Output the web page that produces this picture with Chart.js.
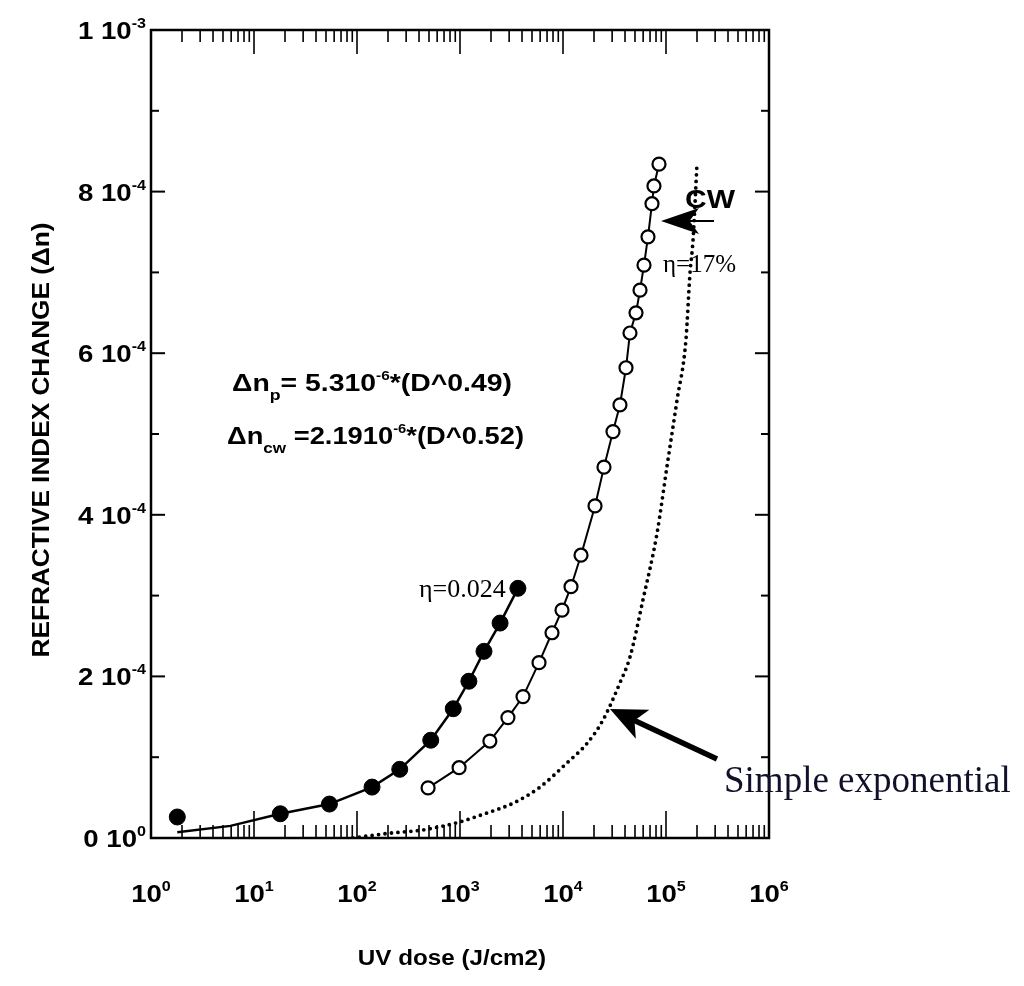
<!DOCTYPE html>
<html>
<head>
<meta charset="utf-8">
<script src="https://cdn.jsdelivr.net/npm/chart.js@4.4.1/dist/chart.umd.min.js"></script>
<style>
  html, body { margin: 0; padding: 0; background: #fff; }
  #wrap { width: 1024px; height: 986px; }
</style>
</head>
<body>
<div id="wrap"><canvas id="grafico" width="1024" height="986"></canvas></div>
<script>
// dose em J/cm2, variação do índice em unidades de 1e-4
const pulsedDose = [1.8, 18, 54, 140, 260, 520, 860, 1220, 1710, 2450, 3650];
const pulsedDn   = [0.26, 0.30, 0.42, 0.63, 0.85, 1.21, 1.60, 1.94, 2.31, 2.66, 3.09];

// curva ajustada (pulsado)
const pulsedFitDose = [1.8, 5.9, 18, 54, 140, 260, 520, 860, 1220, 1710, 2450, 3650];
const pulsedFitDn   = [0.07, 0.15, 0.30, 0.42, 0.63, 0.85, 1.21, 1.60, 1.94, 2.31, 2.66, 3.09];

const cwDose = [490, 980, 1950, 2920, 4090, 5850, 7820, 9780, 11960, 14960, 20460, 25000,
                30570, 35730, 40900, 44700, 51150, 55950, 61150, 66850, 73100, 76400, 85500];
const cwDn   = [0.62, 0.87, 1.20, 1.49, 1.75, 2.17, 2.54, 2.82, 3.11, 3.50, 4.11, 4.59,
                5.03, 5.36, 5.82, 6.25, 6.50, 6.78, 7.09, 7.44, 7.85, 8.07, 8.34];

const expDose = [91, 209, 437, 935, 1830, 3270, 5980, 10940, 17100, 24450, 35700, 44700,
                 59800, 81800, 102000, 128000, 156000, 171000, 183000, 200000];
const expDn   = [0.00, 0.06, 0.10, 0.19, 0.31, 0.43, 0.63, 0.93, 1.17, 1.46, 1.92, 2.24,
                 2.95, 3.77, 4.59, 5.42, 6.16, 6.99, 7.40, 8.35];

const xTickValues = [1, 10, 100, 1000, 10000, 100000, 1000000];
const xTickExp    = ["0", "1", "2", "3", "4", "5", "6"];
const yTickValues = [0, 2, 4, 6, 8, 10];
const yTickBase   = ["0 10", "2 10", "4 10", "6 10", "8 10", "1 10"];
const yTickExp    = ["0", "-4", "-4", "-4", "-4", "-3"];

const pares = (xs, ys) => xs.map((v, i) => ({ x: v, y: ys[i] }));

const SANS = '"Liberation Sans", Arial, sans-serif';
const SERIF = '"Liberation Serif", "Times New Roman", serif';

function linha(ctx, x1, y1, x2, y2) {
    ctx.beginPath();
    ctx.moveTo(x1, y1);
    ctx.lineTo(x2, y2);
    ctx.stroke();
}

function seta(ctx, x1, y1, x2, y2, larg, comp, meia) {
    const ang = Math.atan2(y2 - y1, x2 - x1);
    const bx = x2 - Math.cos(ang) * comp, by = y2 - Math.sin(ang) * comp;
    ctx.lineWidth = larg;
    linha(ctx, x1, y1, bx + Math.cos(ang) * comp * 0.3, by + Math.sin(ang) * comp * 0.3);
    ctx.beginPath();
    ctx.moveTo(x2, y2);
    ctx.lineTo(bx - Math.sin(ang) * meia, by + Math.cos(ang) * meia);
    ctx.lineTo(bx + Math.cos(ang) * comp * 0.25, by + Math.sin(ang) * comp * 0.25);
    ctx.lineTo(bx + Math.sin(ang) * meia, by - Math.cos(ang) * meia);
    ctx.closePath();
    ctx.fill();
}

function largura(ctx, partes, fam, peso) {
    let w = 0;
    partes.forEach(p => {
        ctx.font = peso + " " + p[1] + "px " + fam;
        w += ctx.measureText(p[0]).width;
    });
    return w;
}

// texto com partes sobrescritas / subscritas: [texto, tamanho, deslocamento], esticado por sx
function textoComposto(ctx, partes, x, y, fam, peso, sx) {
    ctx.save();
    ctx.translate(x, y);
    ctx.scale(sx, 1);
    let px = 0;
    partes.forEach(p => {
        ctx.font = peso + " " + p[1] + "px " + fam;
        ctx.fillText(p[0], px, p[2]);
        px += ctx.measureText(p[0]).width;
    });
    ctx.restore();
    return px * sx;
}

const eixos = {
    id: "eixos",
    beforeDatasetsDraw(chart) {
        const { ctx, chartArea: a, scales: { x, y } } = chart;
        ctx.save();
        ctx.strokeStyle = "#000";
        ctx.lineWidth = 2;

        // marcas do eixo y (esquerda e direita)
        for (let v = 0; v <= 10; v++) {
            const py = y.getPixelForValue(v);
            const len = v % 2 === 0 ? 14 : 8;
            linha(ctx, a.left, py, a.left + len, py);
            linha(ctx, a.right, py, a.right - len, py);
        }

        // marcas logarítmicas (baixo e cima)
        ctx.lineWidth = 1.6;
        for (let e = 0; e < 6; e++) {
            for (let m = 1; m < 10; m++) {
                const px = x.getPixelForValue(m * Math.pow(10, e));
                const len = m === 1 ? 27 : 13;
                linha(ctx, px, a.bottom, px, a.bottom - len);
                linha(ctx, px, a.top, px, a.top + (m === 1 ? 24 : 12));
            }
        }

        ctx.lineWidth = 2.5;
        ctx.strokeRect(a.left, a.top, a.right - a.left, a.bottom - a.top);

        // rótulos
        const sx = 1.15;
        ctx.fillStyle = "#000";
        ctx.textBaseline = "alphabetic";
        ctx.textAlign = "left";
        yTickValues.forEach((v, i) => {
            const partes = [[yTickBase[i], 24, 0], [yTickExp[i], 14, -11]];
            const w = largura(ctx, partes, SANS, "bold") * sx;
            textoComposto(ctx, partes, a.left - 5 - w, y.getPixelForValue(v) + 9, SANS, "bold", sx);
        });
        xTickValues.forEach((v, i) => {
            const partes = [["10", 24, 0], [xTickExp[i], 14, -11]];
            const w = largura(ctx, partes, SANS, "bold") * sx;
            textoComposto(ctx, partes, x.getPixelForValue(v) - w / 2, 902, SANS, "bold", sx);
        });

        // títulos dos eixos
        const tx = [["UV dose (J/cm2)", 22, 0]];
        const wx = largura(ctx, tx, SANS, "bold") * 1.1;
        textoComposto(ctx, tx, 452 - wx / 2, 965, SANS, "bold", 1.1);

        ctx.save();
        ctx.translate(49, 440);
        ctx.rotate(-Math.PI / 2);
        const ty = [["REFRACTIVE INDEX CHANGE (\u0394n)", 24, 0]];
        const wy = largura(ctx, ty, SANS, "bold");
        const sy = 435 / wy;
        textoComposto(ctx, ty, -wy * sy / 2, 0, SANS, "bold", sy);
        ctx.restore();
        ctx.restore();
    },
    afterDatasetsDraw(chart) {
        const { ctx } = chart;
        ctx.save();
        ctx.fillStyle = "#000";
        ctx.strokeStyle = "#000";
        ctx.textAlign = "left";
        ctx.textBaseline = "alphabetic";

        // equações
        const eq1 = [["\u0394n", 24, 0], ["p", 15, 9], ["= 5.310", 24, 0],
                     ["-6", 13, -11], ["*(D^0.49)", 24, 0]];
        const eq2 = [["\u0394n", 24, 0], ["cw", 15, 9], [" =2.1910", 24, 0],
                     ["-6", 13, -11], ["*(D^0.52)", 24, 0]];
        textoComposto(ctx, eq1, 232, 391, SANS, "bold", 280 / largura(ctx, eq1, SANS, "bold"));
        textoComposto(ctx, eq2, 227, 444, SANS, "bold", 297 / largura(ctx, eq2, SANS, "bold"));

        ctx.font = "26px " + SERIF;
        ctx.fillText("\u03b7=0.024", 419, 597);
        ctx.font = "25px " + SERIF;
        ctx.fillText("\u03b7=17%", 663, 272);

        textoComposto(ctx, [["CW", 25, 0]], 685, 208, SANS, "bold", 1.2);
        seta(ctx, 714, 221, 661, 221, 2, 38, 13);

        ctx.fillStyle = "#10102a";
        ctx.font = "37px " + SERIF;
        ctx.fillText("Simple exponential", 724, 792);
        ctx.fillStyle = "#000";
        seta(ctx, 717, 759, 610, 709, 5.5, 36, 16);
        ctx.restore();
    }
};

new Chart(document.getElementById("grafico"), {
    type: "scatter",
    data: {
        datasets: [
            {
                label: "ajuste pulsado",
                data: pares(pulsedFitDose, pulsedFitDn),
                showLine: true,
                borderColor: "#000",
                borderWidth: 2.5,
                pointRadius: 0
            },
            {
                label: "pulsado",
                data: pares(pulsedDose, pulsedDn),
                showLine: false,
                pointRadius: 8,
                pointBackgroundColor: "#000",
                pointBorderColor: "#000",
                pointBorderWidth: 1
            },
            {
                label: "CW",
                data: pares(cwDose, cwDn),
                showLine: true,
                borderColor: "#000",
                borderWidth: 2,
                pointRadius: 6.5,
                pointBackgroundColor: "#fff",
                pointBorderColor: "#000",
                pointBorderWidth: 2.2
            },
            {
                label: "Simple exponential",
                data: pares(expDose, expDn),
                showLine: true,
                borderColor: "#000",
                borderWidth: 3.8,
                borderDash: [0, 6.5],
                borderCapStyle: "round",
                pointRadius: 0,
                cubicInterpolationMode: "monotone"
            }
        ]
    },
    options: {
        responsive: false,
        animation: false,
        layout: { padding: { left: 151, right: 255, top: 30, bottom: 148 } },
        plugins: {
            legend: { display: false },
            tooltip: { enabled: false }
        },
        scales: {
            x: { type: "logarithmic", min: 1, max: 1000000, display: false },
            y: { type: "linear", min: 0, max: 10, display: false }
        }
    },
    plugins: [eixos]
});
</script>
</body>
</html>
